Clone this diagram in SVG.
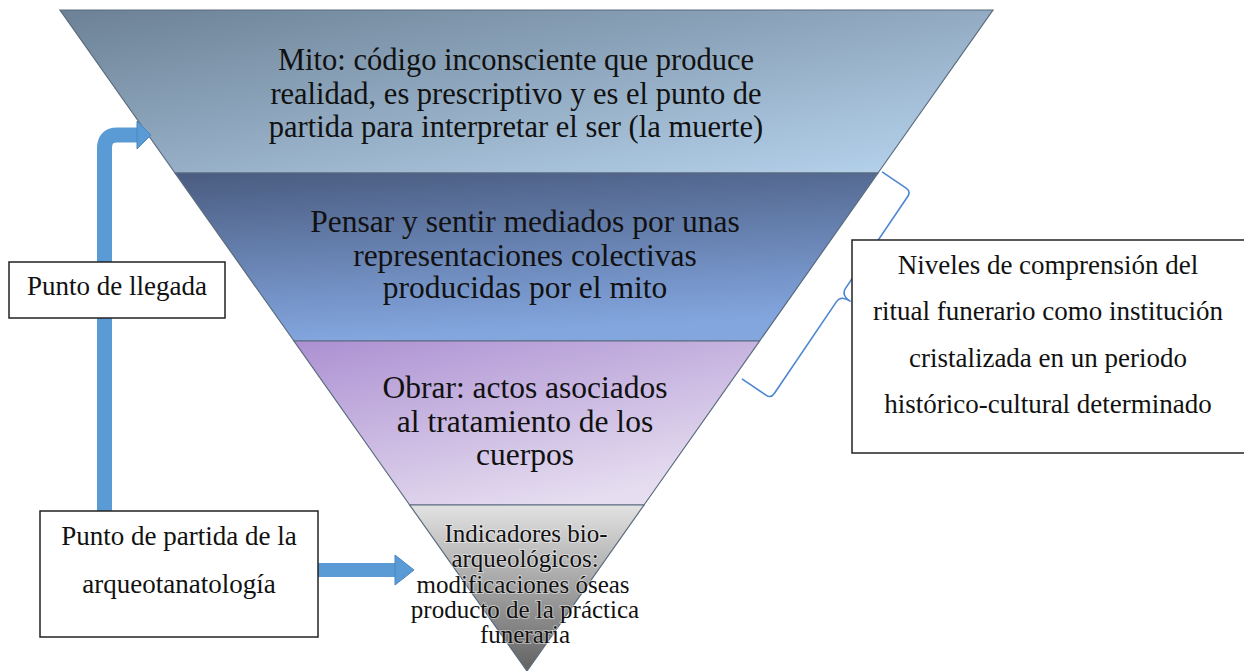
<svg xmlns="http://www.w3.org/2000/svg" width="1244" height="671" viewBox="0 0 1244 671">
<style>
.band{stroke:#5a6b7e;stroke-width:1.2}
.t{font-family:'Liberation Serif','Times New Roman',serif;fill:#111;text-anchor:middle}
.b1{font-size:30.5px}
.b2{font-size:31.5px}
.b4{font-size:25px;paint-order:stroke;stroke:#ffffff;stroke-opacity:0.45;stroke-width:2px}
.bx{font-size:27px}
.box{fill:#fff;stroke:#222;stroke-width:1.5}
.arr{fill:#5b9bd5;stroke:#4a86c0;stroke-width:1}
.shaft{fill:none;stroke:#5b9bd5}
.brace{fill:none;stroke:#4f86d0;stroke-width:1.6;stroke-linejoin:round}
</style>
<defs>
<linearGradient id="g1" x1="0" y1="0" x2="1" y2="1">
<stop offset="0" stop-color="#6c8195"/>
<stop offset="1" stop-color="#b8d5ef"/>
</linearGradient>
<linearGradient id="g2" x1="0" y1="0" x2="0.2" y2="1">
<stop offset="0" stop-color="#4a5c80"/>
<stop offset="1" stop-color="#83a6df"/>
</linearGradient>
<linearGradient id="g3" x1="0" y1="0" x2="0.6" y2="1">
<stop offset="0" stop-color="#ac90d2"/>
<stop offset="1" stop-color="#e6def0"/>
</linearGradient>
<linearGradient id="g4" x1="0" y1="0" x2="0" y2="1">
<stop offset="0" stop-color="#e2e2e2"/>
<stop offset="1" stop-color="#626262"/>
</linearGradient>
</defs>
<rect width="1244" height="671" fill="#fff"/>

<g id="band-mito">
<polygon class="band" fill="url(#g1)" points="60,10 993,10 878,173 175,173"/>
<text class="t b1" x="516" y="70">Mito: código inconsciente que produce</text>
<text class="t b1" x="516" y="103.5">realidad, es prescriptivo y es el punto de</text>
<text class="t b1" x="516" y="137">partida para interpretar el ser (la muerte)</text>
</g>

<g id="band-pensar">
<polygon class="band" fill="url(#g2)" points="175,173 878,173 759.6,341 294,341"/>
<text class="t b2" x="525" y="232">Pensar y sentir mediados por unas</text>
<text class="t b2" x="525" y="265.5">representaciones colectivas</text>
<text class="t b2" x="525" y="298">producidas por el mito</text>
</g>

<g id="band-obrar">
<polygon class="band" fill="url(#g3)" points="294,341 759.6,341 644,505 409.7,505"/>
<text class="t b2" x="525" y="398">Obrar: actos asociados</text>
<text class="t b2" x="525" y="432">al tratamiento de los</text>
<text class="t b2" x="525" y="465">cuerpos</text>
</g>

<g id="band-indicadores">
<polygon class="band" fill="url(#g4)" points="409.7,505 644,505 527,671"/>
<text class="t b4" x="526" y="542">Indicadores bio-</text>
<text class="t b4" x="525" y="567">arqueológicos:</text>
<text class="t b4" x="523" y="593">modificaciones óseas</text>
<text class="t b4" x="525" y="618">producto de la práctica</text>
<text class="t b4" x="525" y="643">funeraria</text>
</g>

<g id="connectors">
<path class="shaft" stroke-width="15" d="M104.5,512 V148 Q104.5,135 117.5,135 H138"/>
<polygon class="arr" points="137,121 151,135 137,149"/>
<rect x="318" y="563" width="78" height="14" fill="#5b9bd5"/>
<polygon class="arr" points="395,555 414,570 395,585"/>
<path class="brace" transform="translate(841,295) rotate(34.1)" d="M-35,-125 L-6,-125 Q0,-125 0,-119 L0,-8 Q0,0 11,0 Q0,0 0,8 L0,119 Q0,125 -6,125 L-35,125"/>
</g>

<g id="box-llegada">
<rect class="box" x="9" y="262" width="216" height="56"/>
<text class="t bx" x="117" y="295">Punto de llegada</text>
</g>

<g id="box-partida">
<rect class="box" x="40" y="511" width="278" height="126"/>
<text class="t bx" x="179" y="545">Punto de partida de la</text>
<text class="t bx" x="179" y="593">arqueotanatología</text>
</g>

<g id="box-niveles">
<rect class="box" x="852" y="240" width="396" height="213"/>
<text class="t bx" x="1048" y="274">Niveles de comprensión del</text>
<text class="t bx" x="1048" y="320">ritual funerario como institución</text>
<text class="t bx" x="1048" y="367">cristalizada en un periodo</text>
<text class="t bx" x="1048" y="413">histórico-cultural determinado</text>
</g>
</svg>
